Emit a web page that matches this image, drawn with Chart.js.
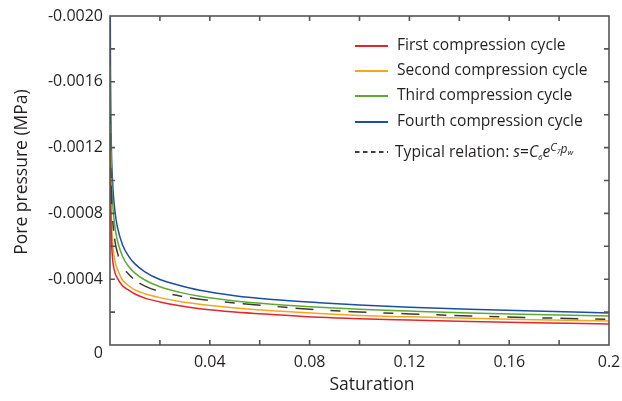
<!DOCTYPE html>
<html><head><meta charset="utf-8">
<script src="https://cdn.jsdelivr.net/npm/chart.js@4.4.1/dist/chart.umd.min.js"></script>
<style>html,body{margin:0;padding:0;background:#fff;}#wrap{width:622px;height:401px;position:relative;}</style>
</head><body><div id="wrap"><canvas id="c"></canvas></div>
<script>
const saturation = [0.0001,0.0002,0.0005,0.001,0.002,0.003,0.005,0.0075,0.01,0.014,0.02,0.028,0.036,0.05,0.065,0.084,0.1,0.12,0.144,0.17,0.2];
const firstCycle  = [-0.0012,-0.00095,-0.00068,-0.00053,-0.00044,-0.000405,-0.00036,-0.000333,-0.00031,-0.000285,-0.000262,-0.000238,-0.000221,-0.000201,-0.000186,-0.000169,-0.00016,-0.000152,-0.000143,-0.000135,-0.000128];
const secondCycle = [-0.0013,-0.00105,-0.0008,-0.00063,-0.00051,-0.00046,-0.000395,-0.00036,-0.000335,-0.000312,-0.000288,-0.000264,-0.000247,-0.000225,-0.000208,-0.000191,-0.00018,-0.000171,-0.000162,-0.000154,-0.000146];
const thirdCycle  = [-0.0017,-0.00144,-0.00109,-0.00088,-0.000715,-0.000632,-0.00054,-0.000477,-0.000437,-0.000395,-0.000354,-0.00032,-0.000296,-0.000268,-0.000248,-0.000229,-0.000217,-0.000206,-0.000194,-0.000185,-0.000176];
const fourthCycle = [-0.0021,-0.00164,-0.00124,-0.001,-0.00081,-0.000715,-0.00061,-0.000539,-0.000493,-0.000445,-0.000398,-0.000362,-0.000333,-0.0003,-0.000277,-0.000257,-0.000243,-0.000229,-0.000217,-0.000206,-0.000195];
const typicalRelation = [-0.0014,-0.0012,-0.00095,-0.00078,-0.00063,-0.00056,-0.00048,-0.00043,-0.000395,-0.000358,-0.000325,-0.000298,-0.000278,-0.000255,-0.000236,-0.000213,-0.000201,-0.000189,-0.000177,-0.000166,-0.000156];
const seriesLabels = ['First compression cycle','Second compression cycle','Third compression cycle','Fourth compression cycle','Typical relation: s=C6e^(C7pw)'];
const xTickLabels = ['0.04','0.08','0.12','0.16','0.2'];
const yTickLabels = ['-0.0020','-0.0016','-0.0012','-0.0008','-0.0004','0'];
const xTitle = 'Saturation';
const yTitle = 'Pore pressure (MPa)';

const colors = ['#e3262b','#f7a51d','#5cab2f','#1c4ea6','#3a3a3a'];
const seriesData = [firstCycle, secondCycle, thirdCycle, fourthCycle, typicalRelation];
const FONT = '"Open Sans", sans-serif';
const TXT = '#231f20';

const datasets = seriesData.map((vals,i)=>({
  label: seriesLabels[i],
  data: saturation.map((s,j)=>({x:s,y:vals[j]})),
  borderColor: colors[i],
  backgroundColor: colors[i],
  borderWidth: 1.5,
  borderDash: i===4 ? [10,8,18,17] : [],
  pointRadius: 0,
  showLine: true,
  fill: false,
  cubicInterpolationMode: 'monotone',
  order: i===4 ? 0 : 1
}));

function drawMath(ctx, x, y, parts){
  parts.forEach(p=>{
    ctx.font = (p.it?'italic ':'') + p.size + 'px ' + FONT;
    ctx.fillText(p.t, x, y + (p.dy||0));
    x += ctx.measureText(p.t).width + (p.gap||0);
  });
}

const framePlugin = {
  id:'frame',
  afterDatasetsDraw(chart){
    const {ctx, chartArea:a, scales:{x,y}} = chart;
    ctx.save();
    ctx.strokeStyle='#555'; ctx.lineWidth=1.6;
    ctx.strokeRect(a.left,a.top,a.right-a.left,a.bottom-a.top);
    ctx.beginPath();
    x.ticks.forEach(t=>{const p=x.getPixelForValue(t.value); if(p<=a.left+1||p>=a.right-1)return;
      ctx.moveTo(p,a.bottom);ctx.lineTo(p,a.bottom-5);ctx.moveTo(p,a.top);ctx.lineTo(p,a.top+5);});
    y.ticks.forEach(t=>{const p=y.getPixelForValue(t.value); if(p<=a.top+1||p>=a.bottom-1)return;
      ctx.moveTo(a.left,p);ctx.lineTo(a.left+5,p);ctx.moveTo(a.right,p);ctx.lineTo(a.right-5,p);});
    ctx.stroke();

    // axis titles
    ctx.fillStyle=TXT;
    ctx.font='17.5px '+FONT; ctx.textAlign='center'; ctx.textBaseline='middle';
    ctx.fillText(xTitle, 372, 385);
    ctx.save(); ctx.translate(22, 172); ctx.rotate(-Math.PI/2); ctx.fillText(yTitle,0,0); ctx.restore();

    // legend
    const rows=[a.top+30,a.top+55,a.top+80,a.top+106,a.top+136];
    const lx0=355,lx1=388,tx=397;
    ctx.textAlign='left'; ctx.textBaseline='middle';
    rows.forEach((ry,i)=>{
      ctx.beginPath(); ctx.strokeStyle=colors[i]; ctx.lineWidth=2;
      ctx.setLineDash(i===4?[4.5,3.5]:[]);
      ctx.moveTo(lx0,ry); ctx.lineTo(lx1,ry); ctx.stroke(); ctx.setLineDash([]);
      ctx.fillStyle=TXT;
      if(i<4){ ctx.font='15.6px '+FONT; ctx.fillText(seriesLabels[i], tx, ry); }
      else {
        ctx.textBaseline='alphabetic';
        const base=ry+5;
        drawMath(ctx, tx-2, base, [
          {t:'Typical relation: ',size:15.6},
          {t:'s',size:15.6,it:true},{t:'=',size:15.6},
          {t:'C',size:15.6,it:true},{t:'6',size:8,it:true,dy:3},
          {t:'e',size:15.6,it:true},
          {t:'C',size:11,it:true,dy:-6},{t:'7',size:7,it:true,dy:-3},
          {t:'p',size:12,it:true,dy:-4},{t:'w',size:8,it:true,dy:-2}
        ]);
        ctx.textBaseline='middle';
      }
    });
    ctx.restore();
  }
};

new Chart(document.getElementById('c'), {
  type:'scatter',
  data:{datasets},
  options:{
    responsive:true, maintainAspectRatio:false, animation:false,
    layout:{padding:{left:0,top:16,right:13,bottom:0}},
    plugins:{legend:{display:false}, tooltip:{enabled:false}},
    scales:{
      x:{type:'linear',min:0,max:0.2,
        afterFit(s){s.height=56; s.paddingRight=0; s.paddingLeft=0;},
        grid:{display:false,drawTicks:false}, border:{display:false},
        ticks:{stepSize:0.02,padding:8,color:TXT,font:{family:FONT,size:16},maxRotation:0,autoSkip:false,
          callback(v){const k=Math.round(v/0.02); if(k===0||k%2) return ''; return xTickLabels[k/2-1];}}
      },
      y:{type:'linear',min:-0.002,max:0,reverse:true,
        afterFit(s){s.width=110; s.paddingTop=0; s.paddingBottom=0;},
        grid:{display:false,drawTicks:false}, border:{display:false},
        ticks:{stepSize:0.0002,padding:7,color:TXT,autoSkip:false,
          font(c){return (c.tick&&Math.abs(c.tick.value)<1e-12)?{family:FONT,size:16,lineHeight:1.0}:{family:FONT,size:16};},
          callback(v){const k=Math.round(-v/0.0002); if(k%2) return ''; const lab=yTickLabels[5-k/2]; return k===0?['',lab]:lab;}}
      }
    }
  },
  plugins:[framePlugin]
});
</script></body></html>
